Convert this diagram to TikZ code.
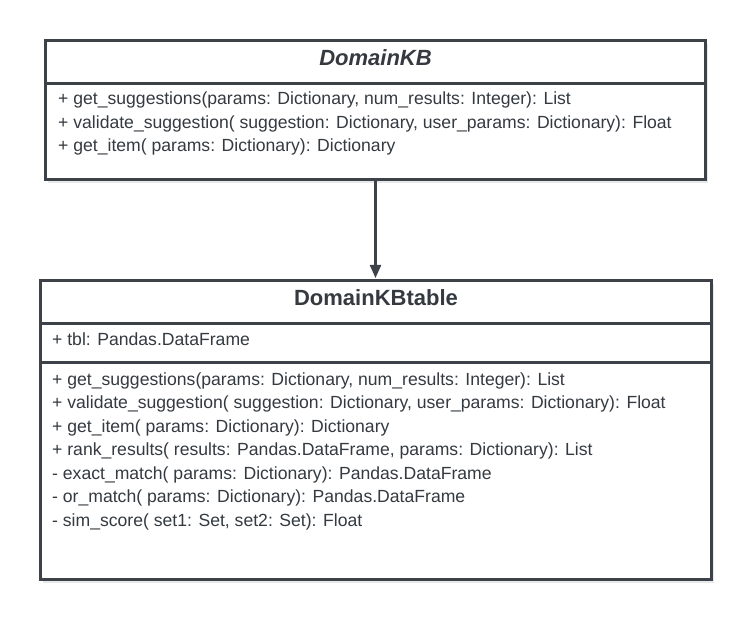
\documentclass[tikz,border=0pt]{standalone}
\usepackage{fontspec}
\setmainfont{Liberation Sans}
\usetikzlibrary{positioning,shadows,arrows.meta}
\definecolor{umlline}{HTML}{3C4248}
\definecolor{umltext}{HTML}{343A40}

\begin{document}
\begin{tikzpicture}[x=1pt, y=-1pt,
      compartment/.style ={rectangle, draw=umlline, line width=3pt, fill=white,
        inner sep=0pt, outer sep=0pt,
        drop shadow={shadow xshift=2.5pt, shadow yshift=-3.5pt, opacity=0.18}},
      classname/.style ={inner sep=0pt, text=umltext,
        font=\fontsize{22}{26}\selectfont\bfseries},
      member/.style ={anchor=base west, inner sep=0pt, text=umltext,
        font=\fontsize{17.6}{21}\selectfont},
      inheritance/.style ={draw=umlline, line width=2.2pt,
        -{Triangle[length=13pt, width=11pt]}, shorten >=2.5pt}]
    \useasboundingbox (0,0) rectangle (752,620);
    %
    % 1. class DomainKB
    \node [compartment, minimum width=660, minimum height=43] (kbhead) at (375.5,62) {};
    \node [compartment, minimum width=660, minimum height=96, below=0pt of kbhead] (kbops) {};
    \node [classname, font=\fontsize{22}{26}\selectfont\bfseries\itshape] (kbname)
      at ([yshift=4pt]kbhead.center) {DomainKB};
    % operations
    \node [member] (kbop1) at ([xshift=12.5pt, yshift=-21.5pt]kbops.north west)
      {+ get\_suggestions(params: Dictionary, num\_results: Integer): List};
    \node [member] (kbop2) at ([yshift=-23.5pt]kbop1.base west)
      {+ validate\_suggestion( suggestion: Dictionary, user\_params: Dictionary): Float};
    \node [member] (kbop3) at ([yshift=-23.5pt]kbop2.base west)
      {+ get\_item( params: Dictionary): Dictionary};
    %
    % 2. class DomainKBtable
    \node [compartment, minimum width=671, minimum height=43] (tblhead) at (376,302) {};
    \node [compartment, minimum width=671, minimum height=39, below=0pt of tblhead] (tblattr) {};
    \node [compartment, minimum width=671, minimum height=217, below=0pt of tblattr] (tblops) {};
    \node [classname] (tblname) at ([yshift=4pt]tblhead.center) {DomainKBtable};
    % attributes
    \node [member] (tblattr1) at ([xshift=11.5pt, yshift=-21.5pt]tblattr.north west)
      {+ tbl: Pandas.DataFrame};
    % operations
    \node [member] (tblop1) at ([xshift=11.5pt, yshift=-22.5pt]tblops.north west)
      {+ get\_suggestions(params: Dictionary, num\_results: Integer): List};
    \node [member] (tblop2) at ([yshift=-23.5pt]tblop1.base west)
      {+ validate\_suggestion( suggestion: Dictionary, user\_params: Dictionary): Float};
    \node [member] (tblop3) at ([yshift=-23.5pt]tblop2.base west)
      {+ get\_item( params: Dictionary): Dictionary};
    \node [member] (tblop4) at ([yshift=-23.5pt]tblop3.base west)
      {+ rank\_results( results: Pandas.DataFrame, params: Dictionary): List};
    \node [member] (tblop5) at ([yshift=-23.5pt]tblop4.base west)
      {- exact\_match( params: Dictionary): Pandas.DataFrame};
    \node [member] (tblop6) at ([yshift=-23.5pt]tblop5.base west)
      {- or\_match( params: Dictionary): Pandas.DataFrame};
    \node [member] (tblop7) at ([yshift=-23.5pt]tblop6.base west)
      {- sim\_score( set1: Set, set2: Set): Float};
    %
    % 3. generalization arrow
    \path [inheritance] (kbops.south) -- (kbops.south |- tblhead.north);
  \end{tikzpicture}
\end{document}
